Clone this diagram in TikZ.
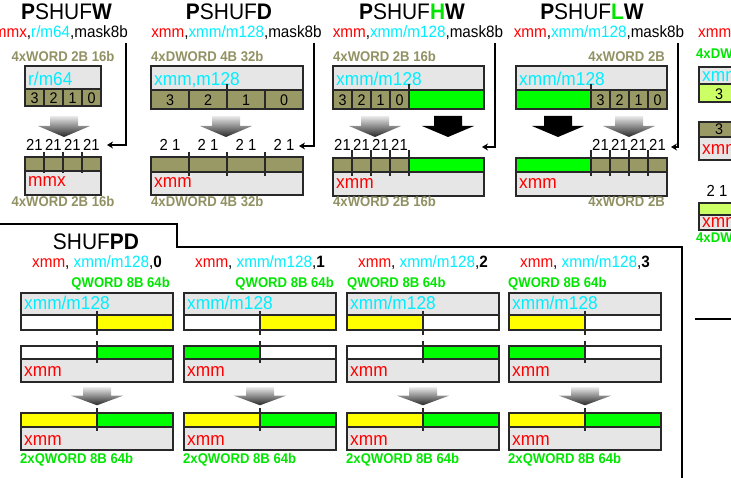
\documentclass[tikz,border=0pt]{standalone}
\usepackage{fontspec}
\setmainfont{Liberation Sans}[FakeStretch=0.93]
\usetikzlibrary{arrows.meta}
\definecolor{regolive}{RGB}{153,153,102}
\definecolor{reggray}{RGB}{230,230,230}
\definecolor{regedge}{RGB}{40,40,40}
\definecolor{opred}{RGB}{255,0,0}
\definecolor{opcyan}{RGB}{0,238,255}
\definecolor{laneg}{RGB}{0,255,0}
\definecolor{laney}{RGB}{255,255,0}
\definecolor{lanel}{RGB}{204,255,102}
\definecolor{tagg}{RGB}{0,230,0}
\definecolor{tago}{RGB}{145,145,100}
\newcommand\fatdown{(-14,0) -- (14,0) -- (14,10) -- (26,10) -- (0,21) -- (-26,10) -- (-14,10) -- cycle}

\begin{document}
\begin{tikzpicture}[x=1pt,y=-1pt,inner sep=0pt,
  title/.style={font=\fontsize{22.5}{23}\selectfont,anchor=base},
  ops/.style={font=\fontsize{16.4}{17}\selectfont,anchor=base},
  tag/.style={font=\fontsize{14.1}{15}\selectfont\bfseries},
  reg/.style={font=\fontsize{18.6}{19}\selectfont,anchor=base west},
  cell/.style={font=\fontsize{15.4}{16}\selectfont,anchor=base},
  sel/.style={font=\fontsize{16}{16}\selectfont,anchor=base},
  box/.style={draw=regedge,line width=1.2pt},
  tick/.style={draw=regedge,line width=1.2pt},
  mask/.style={line width=1.7pt,-{Stealth[length=6pt,width=7pt]}},
  shadearrow/.style={top color=black!8,bottom color=black!85}]
  \path[use as bounding box] (0,0) rectangle (731,478);
  \clip (0,0) rectangle (731,478);

  \node[title] (w-title) at (66.5,20) {\textbf{P}SHUF\textbf{W}};
  \node[ops,anchor=base east] (w-ops) at (128,38) {{\color{opred}mmx},{\color{opcyan}r/m64},mask8b};
  \node[tag,text=tago,anchor=base] (w-tagin) at (63,62) {4xWORD 2B 16b};
  \fill[reggray] (25,66) rectangle (101,89);
  \fill[regolive] (25,89) rectangle (101,106);
  \draw[box] (25,66) rectangle (101,106) (25,89) -- (101,89);
  \node[reg,text=opcyan] (w-src) at (28,86) {r/m64};
  \foreach \i/\v in {0/3,1/2,2/1,3/0}{
    \draw[box] ({25+19*\i},89) -- ({25+19*\i},106);
    \node[cell] (w-c\v) at ({34.5+19*\i},104) {\v};
    \node[sel] (w-s\v) at ({34.5+19*\i},151) {21};}
  \shade[shadearrow,shift={(64,116)}] \fatdown;
  \fill[regolive] (25,157) rectangle (101,171);
  \fill[reggray] (25,171) rectangle (101,195);
  \draw[box] (25,157) rectangle (101,195) (25,171) -- (101,171);
  \foreach \x in {44,63,82} \draw[tick] (\x,152) -- (\x,173);
  \node[reg,text=opred] (w-dst) at (28,187) {mmx};
  \node[tag,text=tago,anchor=base] (w-tagout) at (63,207) {4xWORD 2B 16b};
  \coordinate (w-m) at (126,43);
  \coordinate (w-in) at (107,145);
  \draw[mask] (w-m) |- (w-in);

  \node[title] (d-title) at (229,20) {\textbf{P}SHUF\textbf{D}};
  \node[ops] (d-ops) at (236.5,38) {{\color{opred}xmm},{\color{opcyan}xmm/m128},mask8b};
  \node[tag,text=tago,anchor=base west] (d-tagin) at (151,62) {4xDWORD 4B 32b};
  \fill[reggray] (151,66) rectangle (303,90);
  \fill[regolive] (151,90) rectangle (303,109);
  \draw[box] (151,66) rectangle (303,109) (151,90) -- (303,90);
  \node[reg,text=opcyan] (d-src) at (154,86) {xmm,m128};
  \draw[tick] (227,84) -- (227,90);
  \foreach \i/\v in {0/3,1/2,2/1,3/0}{
    \draw[box] ({151+38*\i},90) -- ({151+38*\i},109);
    \node[cell] (d-c\v) at ({170+38*\i},106) {\v};
    \node[sel] (d-s\v) at ({170+38*\i},151) {2 1};}
  \shade[shadearrow,shift={(226,116)}] \fatdown;
  \fill[regolive] (151,157) rectangle (303,172);
  \fill[reggray] (151,172) rectangle (303,195);
  \draw[box] (151,157) rectangle (303,195) (151,172) -- (303,172);
  \foreach \x in {189,227,265} \draw[tick] (\x,152) -- (\x,176);
  \node[reg,text=opred] (d-dst) at (154,188) {xmm};
  \node[tag,text=tago,anchor=base west] (d-tagout) at (151,207) {4xDWORD 4B 32b};
  \coordinate (d-m) at (314,43);
  \coordinate (d-in) at (299,146);
  \draw[mask] (d-m) |- (d-in);

  \node[title] (hw-title) at (412,20) {\textbf{P}SHUF\textbf{\color{tagg}H}\textbf{W}};
  \node[ops] (hw-ops) at (418,38) {{\color{opred}xmm},{\color{opcyan}xmm/m128},mask8b};
  \node[tag,text=tago,anchor=base west] (hw-tagin) at (333,62) {4xWORD 2B 16b};
  \fill[reggray] (333,66) rectangle (484,90);
  \fill[regolive] (333,90) rectangle (409,109);
  \fill[laneg] (409,90) rectangle (484,109);
  \draw[box] (333,66) rectangle (484,109) (333,90) -- (484,90);
  \node[reg,text=opcyan] (hw-src) at (336,86) {xmm/m128};
  \draw[tick] (409,84) -- (409,109);
  \foreach \i/\v in {0/3,1/2,2/1,3/0}{
    \draw[box] ({333+19*\i},90) -- ({333+19*\i},109);
    \node[cell] (hw-c\v) at ({342.5+19*\i},106) {\v};
    \node[sel] (hw-s\v) at ({342.5+19*\i},151) {21};}
  \shade[shadearrow,shift={(375,116)}] \fatdown;
  \fill[black,shift={(448,116)}] \fatdown;
  \fill[regolive] (333,158) rectangle (409,172);
  \fill[laneg] (409,158) rectangle (484,172);
  \fill[reggray] (333,172) rectangle (484,196);
  \draw[box] (333,158) rectangle (484,196) (333,172) -- (484,172);
  \foreach \x in {352,371,390,409} \draw[tick] (\x,150) -- (\x,176);
  \node[reg,text=opred] (hw-dst) at (336,189) {xmm};
  \node[tag,text=tago,anchor=base west] (hw-tagout) at (333,207) {4xWORD 2B 16b};
  \coordinate (hw-m) at (495,43);
  \coordinate (hw-in) at (482,147);
  \draw[mask] (hw-m) |- (hw-in);

  \node[title] (lw-title) at (592,20) {\textbf{P}SHUF\textbf{\color{tagg}L}\textbf{W}};
  \node[ops] (lw-ops) at (599,38) {{\color{opred}xmm},{\color{opcyan}xmm/m128},mask8b};
  \node[tag,text=tago,anchor=base east] (lw-tagin) at (665,62) {4xWORD 2B};
  \fill[reggray] (516,66) rectangle (667,90);
  \fill[laneg] (516,90) rectangle (591,109);
  \fill[regolive] (591,90) rectangle (667,109);
  \draw[box] (516,66) rectangle (667,109) (516,90) -- (667,90);
  \node[reg,text=opcyan] (lw-src) at (519,86) {xmm/m128};
  \draw[tick] (591,84) -- (591,109);
  \foreach \i/\v in {0/3,1/2,2/1,3/0}{
    \draw[box] ({591+19*\i},90) -- ({591+19*\i},109);
    \node[cell] (lw-c\v) at ({600.5+19*\i},106) {\v};
    \node[sel] (lw-s\v) at ({600.5+19*\i},151) {21};}
  \fill[black,shift={(558,116)}] \fatdown;
  \shade[shadearrow,shift={(629,116)}] \fatdown;
  \fill[laneg] (516,158) rectangle (591,172);
  \fill[regolive] (591,158) rectangle (667,172);
  \fill[reggray] (516,172) rectangle (667,196);
  \draw[box] (516,158) rectangle (667,196) (516,172) -- (667,172);
  \foreach \x in {591,610,629,648} \draw[tick] (\x,150) -- (\x,176);
  \node[reg,text=opred] (lw-dst) at (519,189) {xmm};
  \node[tag,text=tago,anchor=base east] (lw-tagout) at (665,207) {4xWORD 2B};
  \coordinate (lw-m) at (678,43);
  \coordinate (lw-in) at (671,147);
  \draw[mask] (lw-m) |- (lw-in);

  \node[ops,anchor=base west,text=opred] (x-ops) at (698,38) {xmm};
  \node[tag,text=tagg,anchor=base west] (x-tagin) at (696,59) {4xDW};
  \fill[reggray] (699,67) rectangle (740,84);
  \fill[lanel] (699,84) rectangle (740,102);
  \draw[box] (699,67) rectangle (740,102) (699,84) -- (740,84);
  \node[reg,text=opcyan] (x-src) at (702,82) {xmm};
  \node[cell] (x-c3) at (719,100) {3};
  \fill[regolive] (699,122) rectangle (740,137);
  \fill[reggray] (699,137) rectangle (740,160);
  \draw[box] (699,122) rectangle (740,160) (699,137) -- (740,137);
  \node[cell] (x-d3) at (719,135) {3};
  \node[reg,text=opred] (x-dst) at (702,155) {xmm};
  \node[sel] (x-s) at (717,197) {2 1};
  \fill[lanel] (699,203) rectangle (740,215);
  \fill[reggray] (699,215) rectangle (740,230);
  \draw[box] (699,203) rectangle (740,230) (699,215) -- (740,215);
  \node[reg,text=opred] (x-res) at (702,228) {xmm};
  \node[tag,text=tagg,anchor=base west] (x-tagout) at (696,243) {4xDW};
  \draw[line width=1.6pt] (695,319) -- (740,319);

  \draw[line width=1.6pt] (0,224) -- (177,224) -- (177,247) -- (682,247) -- (682,480);
  \node[title] (pd-title) at (96,250) {SHUF\textbf{PD}};
  \foreach \k/\L/\aL/\aR/\bL/\bR/\qx/\qa in {0/21/white/laney/white/laneg/170/east,1/184/white/laney/laneg/white/334/east,2/347/laney/white/white/laneg/347/west,3/509/laney/white/laneg/white/508/west}{
    \node[ops] (pd\k-ops) at ({\L+76},268) {{\color{opred}xmm}, {\color{opcyan}xmm/m128},\textbf{\k}};
    \node[tag,text=tagg,anchor=base \qa] (pd\k-tagin) at (\qx,288) {QWORD 8B 64b};
    \fill[reggray] (\L,293) rectangle ({\L+152},315);
    \fill[\aL] (\L,315) rectangle ({\L+76},330);
    \fill[\aR] ({\L+76},315) rectangle ({\L+152},330);
    \draw[box] (\L,293) rectangle ({\L+152},330) (\L,315) -- ({\L+152},315);
    \node[reg,text=opcyan] (pd\k-src) at ({\L+3},310) {xmm/m128};
    \fill[\bL] (\L,346) rectangle ({\L+76},359);
    \fill[\bR] ({\L+76},346) rectangle ({\L+152},359);
    \fill[reggray] (\L,359) rectangle ({\L+152},382);
    \draw[box] (\L,346) rectangle ({\L+152},382) (\L,359) -- ({\L+152},359);
    \node[reg,text=opred] (pd\k-dst) at ({\L+3},377) {xmm};
    \shade[shadearrow,shift={({\L+76},387)},yscale=0.87] \fatdown;
    \fill[laney] (\L,413) rectangle ({\L+76},427);
    \fill[laneg] ({\L+76},413) rectangle ({\L+152},427);
    \fill[reggray] (\L,427) rectangle ({\L+152},450);
    \draw[box] (\L,413) rectangle ({\L+152},450) (\L,427) -- ({\L+152},427);
    \node[reg,text=opred] (pd\k-res) at ({\L+3},445) {xmm};
    \draw[tick] ({\L+76},311) -- ({\L+76},335) ({\L+76},341) -- ({\L+76},363) ({\L+76},408) -- ({\L+76},431);
    \node[tag,text=tagg,anchor=base west] (pd\k-tagout) at ({\L-1},463) {2xQWORD 8B 64b};}
\end{tikzpicture}
\end{document}
